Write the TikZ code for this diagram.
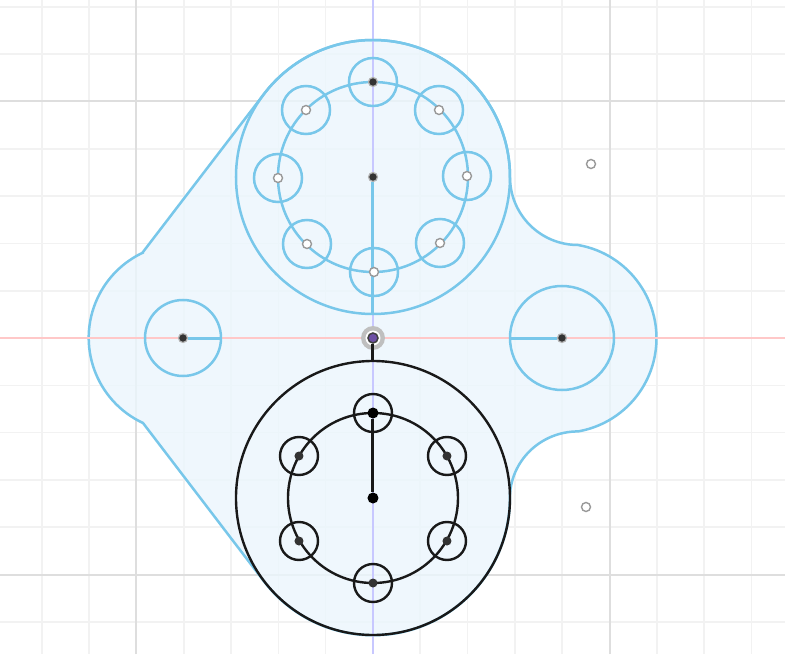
\documentclass[tikz,border=0pt]{standalone}
\usepackage{xcolor}
\definecolor{sk}{RGB}{120, 199, 234}
\definecolor{pr}{RGB}{235, 246, 253}
\definecolor{gm}{RGB}{242, 242, 242}
\definecolor{gj}{RGB}{222, 222, 222}
\definecolor{ax}{RGB}{200, 200, 255}
\definecolor{ay}{RGB}{255, 200, 200}
\definecolor{pu}{RGB}{110, 80, 165}
\tikzset{
    blueline/.style={sk, line width=2.5pt},
    blackline/.style={black!90, line width=2.4pt},
    ring/.style={circle, draw, inner sep=0pt, outer sep=0pt, minimum size=#1},
    openpt/.style={circle, draw=black!40, line width=1.4pt, fill=white, inner sep=0pt, minimum size=9pt},
    solidpt/.style={circle, draw=black!30, line width=1.2pt, fill=black!80, inner sep=0pt, minimum size=9pt},
    blackpt/.style={circle, fill=black, inner sep=0pt, minimum size=11pt}
}

\begin{document}
\begin{tikzpicture}[x=1pt, y=1pt]
    \useasboundingbox[fill=white] (-373,-316) rectangle (412,338);
    % grid
    \foreach \i in {-7,...,8} {
        \draw[gm, line width=1.6pt] (\i*47.3,-316) -- (\i*47.3,338);
    }
    \foreach \j in {-6,...,7} {
        \draw[gm, line width=1.6pt] (-373,\j*47.3) -- (412,\j*47.3);
    }
    \draw[gj, line width=2pt] (-236.5,-316) -- (-236.5,338);
    \draw[gj, line width=2pt] (236.5,-316) -- (236.5,338);
    \draw[gj, line width=2pt] (-373,236.5) -- (412,236.5);
    \draw[gj, line width=2pt] (-373,-236.5) -- (412,-236.5);

    % profile
    \draw[blueline, fill=pr, fill opacity=0.8] (-230,86) -- (-108.7,244.4)
        arc[start angle=142.5, end angle=0, radius=137pt]
        arc[start angle=180, end angle=270, radius=68pt]
        arc[start angle=80.2, end angle=-80.2, radius=94.6pt]
        arc[start angle=90, end angle=180, x radius=68.1pt, y radius=66.8pt]
        arc[start angle=0, end angle=-142.5, radius=137pt]
        -- (-230,-85)
        arc[start angle=245, end angle=115, radius=94pt] -- cycle;

    % axes
    \draw[ax, line width=1.8pt] (0,-316) -- (0,338);
    \draw[ay, line width=1.8pt] (-373,0) -- (412,0);

    % top disc
    \node[blueline, ring=274pt] (topdisc) at (0,161) {};
    \node[blueline, ring=190pt] (toppitch) at (0,161) {};
    \node[blueline, ring=48pt] (t1) at (0,256) {};
    \node[blueline, ring=48pt] (t2) at (66,228) {};
    \node[blueline, ring=48pt] (t3) at (94,162) {};
    \node[blueline, ring=48pt] (t4) at (67,95) {};
    \node[blueline, ring=48pt] (t5) at (1,66) {};
    \node[blueline, ring=48pt] (t6) at (-66,94) {};
    \node[blueline, ring=48pt] (t7) at (-95,160) {};
    \node[blueline, ring=48pt] (t8) at (-67,228) {};
    \node[solidpt] (topc) at (0,161) {};
    \draw[blueline, line width=3pt] (topc) -- (topdisc.south);

    % side bosses
    \node[blueline, ring=76pt] (leftring) at (-190,0) {};
    \node[blueline, ring=104pt] (rightring) at (189,0) {};
    \node[solidpt] (leftc) at (-190,0) {};
    \node[solidpt] (rightc) at (189,0) {};
    \draw[blueline, line width=3pt] (leftc) -- (leftring.east);
    \draw[blueline, line width=3pt] (rightc) -- (rightring.west);

    % bottom disc
    \node[blackline, ring=274pt] (botdisc) at (0,-160) {};
    \node[blackline, ring=170pt] (botpitch) at (0,-160) {};
    \node[blackline, ring=38pt] (b1) at (0,-75) {};
    \node[blackline, ring=38pt] (b2) at (74,-118) {};
    \node[blackline, ring=38pt] (b3) at (74,-203) {};
    \node[blackline, ring=38pt] (b4) at (0,-245) {};
    \node[blackline, ring=38pt] (b5) at (-74,-203) {};
    \node[blackline, ring=38pt] (b6) at (-74,-118) {};
    \node[blackpt] (botc) at (0,-160) {};
    \node[blackpt] (b1c) at (0,-75) {};
    \draw[blackline, line width=3pt] (botc) -- (b1c);
    \node[solidpt, draw=none] (b2c) at (74,-118) {};
    \node[solidpt, draw=none] (b3c) at (74,-203) {};
    \node[solidpt, draw=none] (b4c) at (0,-245) {};
    \node[solidpt, draw=none] (b5c) at (-74,-203) {};
    \node[solidpt, draw=none] (b6c) at (-74,-118) {};

    % hole points
    \node[solidpt] (t1c) at (0,256) {};
    \node[openpt] (t2c) at (66,228) {};
    \node[openpt] (t3c) at (94,162) {};
    \node[openpt] (t4c) at (67,95) {};
    \node[openpt] (t5c) at (1,66) {};
    \node[openpt] (t6c) at (-66,94) {};
    \node[openpt] (t7c) at (-95,160) {};
    \node[openpt] (t8c) at (-67,228) {};
    \node[openpt] (p1) at (218,174) {};
    \node[openpt] (p2) at (213,-169) {};

    % origin
    \node[circle, fill=black!25, inner sep=0pt, minimum size=24pt] (oglow) at (0,0) {};
    \node[circle, fill=white, inner sep=0pt, minimum size=15pt] (oring) at (0,0) {};
    \node[circle, draw=black!75, line width=1.5pt, fill=pu, inner sep=0pt, minimum size=10pt] (o) at (0,0) {};
    \draw[blackline, line width=3pt] (o) -- (botdisc.north);
\end{tikzpicture}
\end{document}
